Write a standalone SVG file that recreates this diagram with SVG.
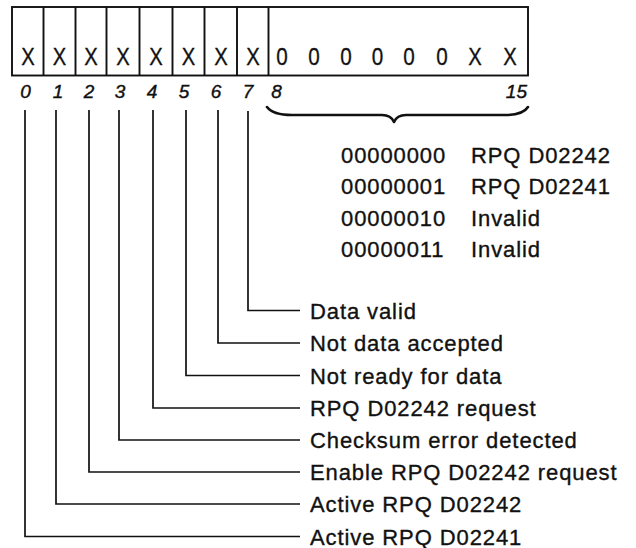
<svg xmlns="http://www.w3.org/2000/svg" width="636" height="548" viewBox="0 0 636 548">
  <style>
    .frame { fill: none; stroke: #111; stroke-width: 1.9; }
    .cell { fill: #111; stroke: #111; stroke-width: 0.3; font-family: "Liberation Sans", Arial, sans-serif; font-size: 23px; text-anchor: middle; }
    .bitno { fill: #111; stroke: #111; stroke-width: 0.4; font-family: "Liberation Sans", Arial, sans-serif; font-size: 19px; font-style: italic; text-anchor: middle; }
    .lbl { fill: #111; stroke: #111; stroke-width: 0.35; font-family: "Liberation Sans", Arial, sans-serif; font-size: 22px; letter-spacing: 0.9px; }
    .wire { fill: none; stroke: #111; stroke-width: 1.7; }
    .brace { fill: none; stroke: #111; stroke-width: 2.6; stroke-linecap: round; stroke-linejoin: round; }
  </style>
  <rect width="636" height="548" fill="#fff"/>

  <!-- 16-bit register word -->
  <g id="register">
    <rect class="frame" x="12" y="7" width="516" height="68.5"/>
    <path class="frame" d="M43.5 7V75.5M75.5 7V75.5M106.5 7V75.5M139.5 7V75.5M172.5 7V75.5M204.5 7V75.5M237 7V75.5M268.5 7V75.5"/>
    <g class="cell">
      <text x="28" y="64.5" textLength="13.5" lengthAdjust="spacingAndGlyphs">X</text>
      <text x="59.5" y="64.5" textLength="13.5" lengthAdjust="spacingAndGlyphs">X</text>
      <text x="91" y="64.5" textLength="13.5" lengthAdjust="spacingAndGlyphs">X</text>
      <text x="123" y="64.5" textLength="13.5" lengthAdjust="spacingAndGlyphs">X</text>
      <text x="156" y="64.5" textLength="13.5" lengthAdjust="spacingAndGlyphs">X</text>
      <text x="188.5" y="64.5" textLength="13.5" lengthAdjust="spacingAndGlyphs">X</text>
      <text x="221" y="64.5" textLength="13.5" lengthAdjust="spacingAndGlyphs">X</text>
      <text x="253" y="64.5" textLength="13.5" lengthAdjust="spacingAndGlyphs">X</text>
      <text x="282" y="64.5" textLength="11.5" lengthAdjust="spacingAndGlyphs">0</text>
      <text x="314" y="64.5" textLength="11.5" lengthAdjust="spacingAndGlyphs">0</text>
      <text x="346" y="64.5" textLength="11.5" lengthAdjust="spacingAndGlyphs">0</text>
      <text x="377.5" y="64.5" textLength="11.5" lengthAdjust="spacingAndGlyphs">0</text>
      <text x="409" y="64.5" textLength="11.5" lengthAdjust="spacingAndGlyphs">0</text>
      <text x="442" y="64.5" textLength="11.5" lengthAdjust="spacingAndGlyphs">0</text>
      <text x="475" y="64.5" textLength="13.5" lengthAdjust="spacingAndGlyphs">X</text>
      <text x="510" y="64.5" textLength="13.5" lengthAdjust="spacingAndGlyphs">X</text>
    </g>
  </g>

  <!-- bit numbers -->
  <g id="bit-numbers" class="bitno">
    <text x="25.5" y="98">0</text>
    <text x="58" y="98">1</text>
    <text x="89" y="98">2</text>
    <text x="120" y="98">3</text>
    <text x="152" y="98">4</text>
    <text x="184" y="98">5</text>
    <text x="216" y="98">6</text>
    <text x="248" y="98">7</text>
    <text x="276.5" y="98">8</text>
    <text x="527" y="98" style="text-anchor:end">15</text>
  </g>

  <!-- brace over bits 8-15 -->
  <g id="brace">
    <path class="brace" d="M267 107Q273 115 292 115H382Q391 115 394 122Q397 115 406 115H505Q523 115 528 107"/>
  </g>

  <!-- code table for bits 8-15 -->
  <g id="code-table" class="lbl">
    <text x="341" y="162.5">00000000</text><text x="471" y="162.5">RPQ D02242</text>
    <text x="341" y="194">00000001</text><text x="471" y="194">RPQ D02241</text>
    <text x="341" y="225.5">00000010</text><text x="471" y="225.5">Invalid</text>
    <text x="341" y="257">00000011</text><text x="471" y="257">Invalid</text>
  </g>

  <!-- leader lines from bits 0-7 to their labels -->
  <g id="connectors" class="wire">
    <path d="M248 111V310.5H300"/>
    <path d="M218 110V343H300"/>
    <path d="M186 110V375.5H300"/>
    <path d="M153 110V408H300"/>
    <path d="M119 110V440H300"/>
    <path d="M89 110V472H300"/>
    <path d="M56 110V504H300"/>
    <path d="M25 110V536.5H300"/>
  </g>

  <g id="bit7" class="lbl"><text x="310" y="318.5">Data valid</text></g>
  <g id="bit6" class="lbl"><text x="310" y="351">Not data accepted</text></g>
  <g id="bit5" class="lbl"><text x="310" y="383.5">Not ready for data</text></g>
  <g id="bit4" class="lbl"><text x="310" y="416">RPQ D02242 request</text></g>
  <g id="bit3" class="lbl"><text x="310" y="448">Checksum error detected</text></g>
  <g id="bit2" class="lbl"><text x="310" y="480">Enable RPQ D02242 request</text></g>
  <g id="bit1" class="lbl"><text x="310" y="512">Active RPQ D02242</text></g>
  <g id="bit0" class="lbl"><text x="310" y="544.5">Active RPQ D02241</text></g>
</svg>
